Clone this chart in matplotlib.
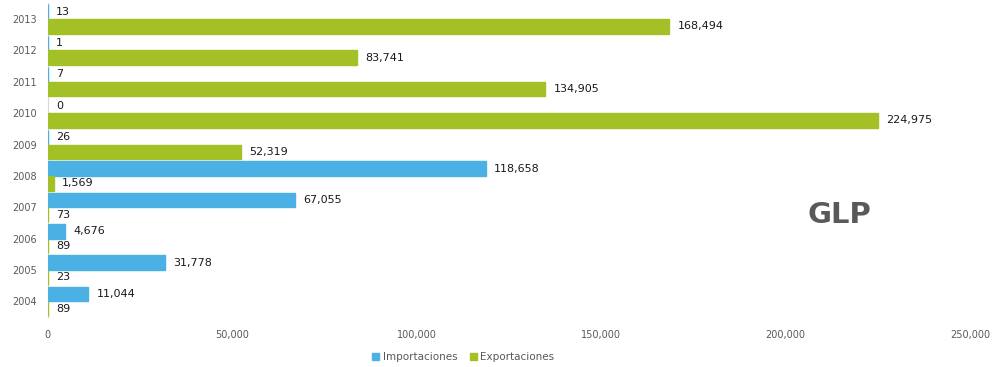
import matplotlib.pyplot as plt
import numpy as np

years = ["2004", "2005", "2006", "2007", "2008", "2009", "2010", "2011", "2012", "2013"]
importaciones = [11044, 31778, 4676, 67055, 118658, 26, 0, 7, 1, 13]
exportaciones = [89, 23, 89, 73, 1569, 52319, 224975, 134905, 83741, 168494]
xticks = [0, 50000, 100000, 150000, 200000, 250000]

col_imp = "#4bb0e4"
col_exp = "#a3c027"

fig = plt.figure(figsize=(9.94, 3.67), dpi=100)
ax = fig.add_axes([0.048, 0.135, 0.928, 0.857])

y = np.arange(len(years))
h = 0.47
lw_imp = [0 if v == 0 else 1.0 for v in importaciones]
lw_exp = [0 if v == 0 else 1.0 for v in exportaciones]
b1 = ax.barh(y + h / 2, importaciones, height=h, color=col_imp,
             edgecolor=col_imp, linewidth=lw_imp, label="Importaciones", zorder=3)
b2 = ax.barh(y - h / 2, exportaciones, height=h, color=col_exp,
             edgecolor=col_exp, linewidth=lw_exp, label="Exportaciones", zorder=3)

for bars, vals in ((b1, importaciones), (b2, exportaciones)):
    for bar, v in zip(bars, vals):
        ax.annotate(f"{v:,}", (v, bar.get_y() + bar.get_height() / 2),
                    xytext=(6, 0), textcoords="offset points",
                    va="center", ha="left", fontsize=8, color="#1a1a1a")

ax.set_xlim(0, 250000)
ax.set_ylim(-0.5 - 0.01, len(years) - 0.5 + 0.01)
ax.set_yticks(y)
ax.set_yticklabels(years)
ax.set_xticks(xticks)
ax.set_xticklabels([f"{t:,}" for t in xticks])
ax.tick_params(axis="both", length=0, labelsize=7, colors="#595959")
ax.tick_params(axis="x", pad=9)
ax.tick_params(axis="y", pad=8)
for s in ("top", "right", "bottom"):
    ax.spines[s].set_visible(False)
ax.spines["left"].set_color("#d9d9d9")
ax.spines["left"].set_linewidth(0.8)
ax.spines["left"].set_zorder(1)

ax.text(0.845, 0.414, "GLP", transform=fig.transFigure, fontsize=21,
        fontweight="bold", color="#595959", ha="center", va="center")

fig.legend(handles=[b1, b2], loc="center", bbox_to_anchor=(0.466, 0.027),
           ncol=2, frameon=False, fontsize=7.5, handlelength=0.7,
           handleheight=0.7, handletextpad=0.3, columnspacing=1.2,
           labelcolor="#595959")

fig.savefig("out.png", dpi=100)
